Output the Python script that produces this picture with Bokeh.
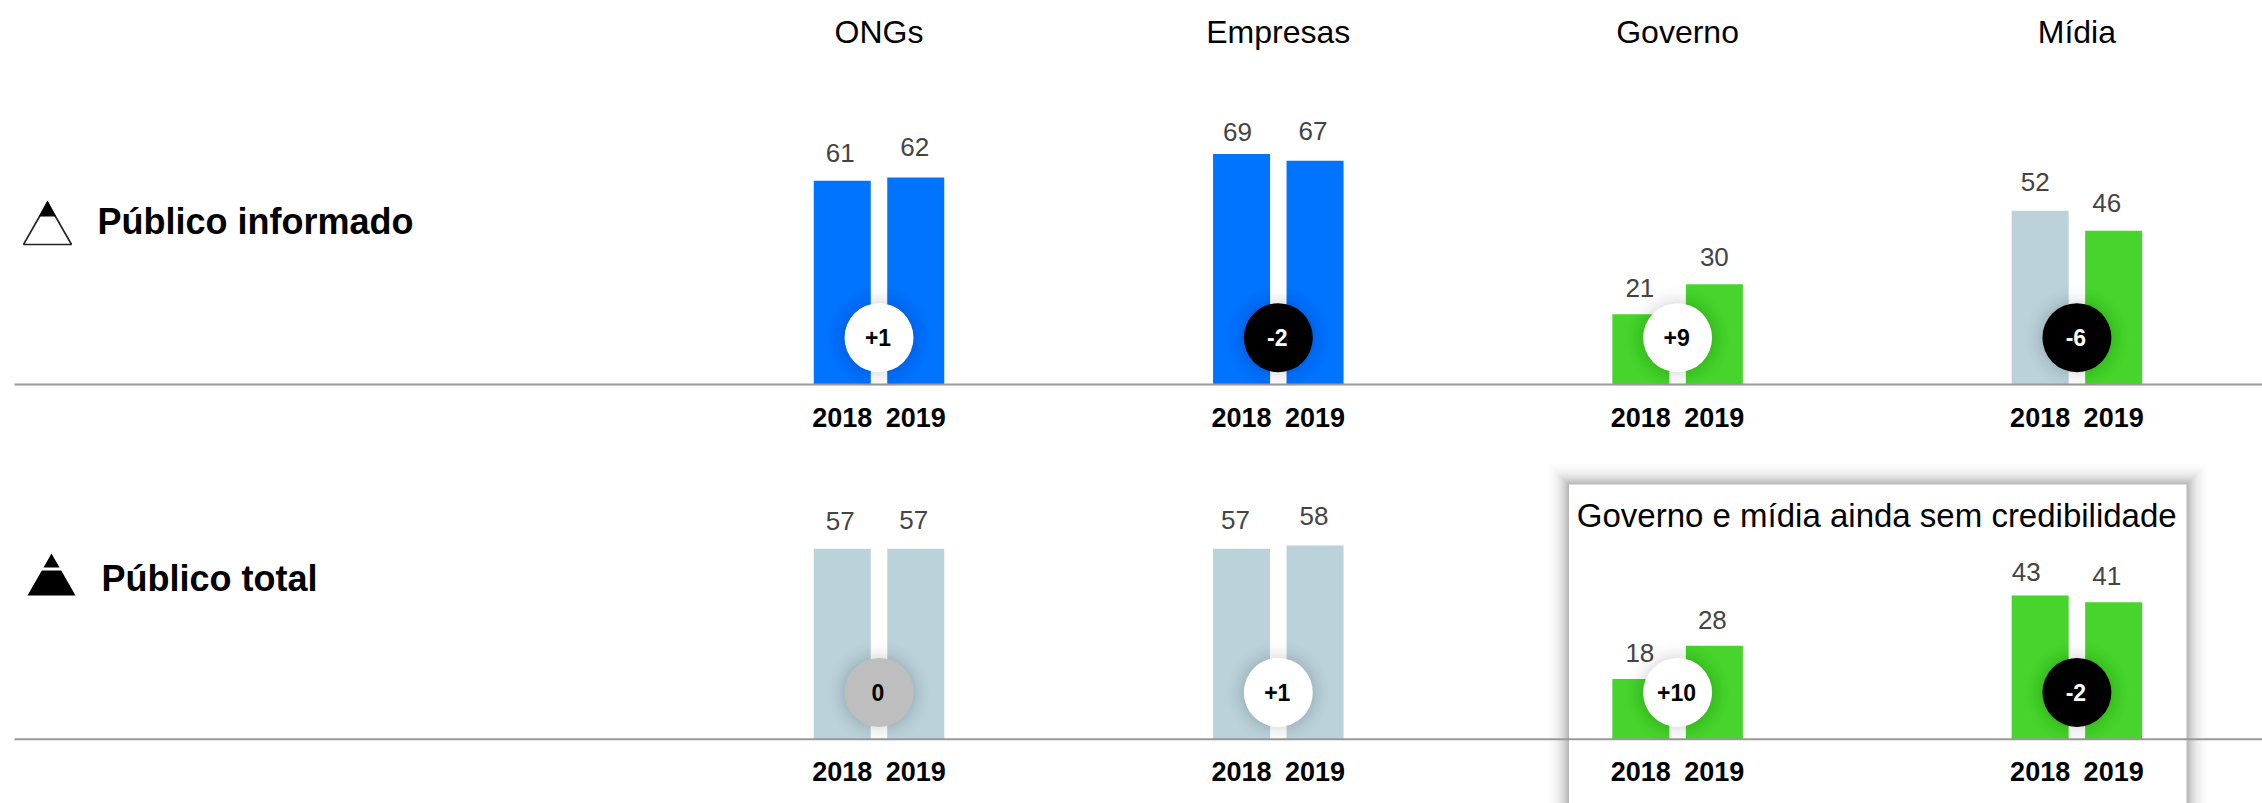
from bokeh.plotting import figure
from bokeh.layouts import column
from bokeh.models import Range1d, FixedTicker, LinearAxis
from bokeh.embed import file_html
from bokeh.resources import INLINE
from bokeh.core.properties import value

categories = ["ONGs", "Empresas", "Governo", "Mídia"]
years = ["2018", "2019"]
informed_2018 = [61, 69, 21, 52]
informed_2019 = [62, 67, 30, 46]
total_2018 = [57, 57, 18, 43]
total_2019 = [57, 58, 28, 41]
informed_change = ["+1", "-2", "+9", "-6"]
total_change = ["0", "+1", "+10", "-2"]
card_title = "Governo e mídia ainda sem credibilidade"

BLUE, PALE, GREEN = "#0073FF", "#BCD2DB", "#46D42D"
informed_colors_2018 = [BLUE, BLUE, GREEN, PALE]
informed_colors_2019 = [BLUE, BLUE, GREEN, GREEN]
total_colors_2018 = [PALE, PALE, GREEN, GREEN]
total_colors_2019 = [PALE, PALE, GREEN, GREEN]

# layout (picture pixels)
FONT = value("Liberation Sans")
W, PAD = 2262, 0
GROUP0, GROUP_STEP = 878.5, 399.3
PX_PER_UNIT = 3.34
BAR_W = 57 / GROUP_STEP
OFFSET = 36.75 / GROUP_STEP
BADGE_Y = 14
informed_dx = [-2, -1, -4, -2, -1, 0, -5, -7]
informed_dy = [28, 30, 22, 30, 26, 27, 29, 28]
total_dx = [-2, -2, -6, -1, -1, -2, -14, -7]
total_dy = [28, 29, 29, 29, 26, 26, 24, 26]


def make_row(top, bottom, baseline, v18, v19, c18, c19, change, dx, dy, header=False, card=False):
    h = bottom - top
    p = figure(width=W, height=h, output_backend="svg", toolbar_location=None,
               x_range=Range1d((PAD - GROUP0) / GROUP_STEP, (PAD + W - GROUP0) / GROUP_STEP),
               y_range=Range1d(-(bottom - baseline) / PX_PER_UNIT, (baseline - top) / PX_PER_UNIT),
               x_axis_location=None, y_axis_location=None, min_border=0, outline_line_color=None)
    p.grid.visible = False
    p.background_fill_color = "white"
    p.extra_x_ranges["px"] = Range1d(PAD, PAD + W)
    p.extra_y_ranges["py"] = Range1d(bottom, top)
    px = dict(x_range_name="px", y_range_name="py")

    if card:
        L, R, T = 1568.5, 2186, 484
        n = 22
        for k in range(n, 0, -1):
            a = 0.004 + 0.032 * ((n - k) / n) ** 2
            p.quad(left=[L - k], right=[R + k], top=[T - k], bottom=[bottom + 30],
                   fill_color="black", fill_alpha=a, line_color=None, **px)
        p.quad(left=[L], right=[R], top=[T], bottom=[bottom + 30], fill_color="white", line_color=None, **px)
        p.text(x=[(L + R) / 2 - 1], y=[515], text=[card_title], text_font=FONT, text_font_size="33px",
               text_color="black", text_align="center", text_baseline="middle", **px)

    idx = list(range(len(categories)))
    x18 = [i - OFFSET for i in idx]
    x19 = [i + OFFSET for i in idx]
    p.vbar(x=x18, top=v18, bottom=0, width=BAR_W, fill_color=c18, line_color=None)
    p.vbar(x=x19, top=v19, bottom=0, width=BAR_W, fill_color=c19, line_color=None)

    # value labels
    xs = [x for pair in zip(x18, x19) for x in pair]
    ys = [v for pair in zip(v18, v19) for v in pair]
    p.text(x=xs, y=ys, text=[str(v) for v in ys], x_offset=dx, y_offset=[-d for d in dy],
           text_font=FONT, text_font_size="26px", text_color="#444444",
           text_align="center", text_baseline="middle")

    # base line
    p.line(x=[14, PAD + W], y=[baseline, baseline], line_color="#999999", line_width=2, **px)

    # change badges with soft shadow
    for k in range(12, 0, -1):
        p.scatter(x=idx, y=[BADGE_Y] * 4, size=69 + 3 * k, marker="circle",
                  fill_color="black", fill_alpha=0.004 + 0.012 * ((12 - k) / 12) ** 2, line_color=None)
    fills = ["#BEBEBE" if c == "0" else ("white" if c.startswith("+") else "black") for c in change]
    inks = ["white" if c.startswith("-") else "black" for c in change]
    p.scatter(x=idx, y=[BADGE_Y] * 4, size=69, marker="circle", fill_color=fills, line_color=None)
    p.text(x=idx, y=[BADGE_Y] * 4, text=change, text_color=inks, text_font=FONT,
           text_font_size="23px", text_font_style="bold", text_align="center", text_baseline="middle",
           x_offset=-1, y_offset=0)

    # year tick labels on a real axis
    ticks = xs
    ax = LinearAxis(ticker=FixedTicker(ticks=ticks),
                    major_label_overrides={t: years[n % 2] for n, t in enumerate(ticks)})
    ax.fixed_location = 0
    ax.axis_line_color = None
    ax.major_tick_line_color = None
    ax.minor_tick_line_color = None
    ax.major_label_standoff = 17
    ax.major_label_text_font = "Liberation Sans"
    ax.major_label_text_font_size = "27px"
    ax.major_label_text_font_style = "bold"
    ax.major_label_text_color = "black"
    p.add_layout(ax, "below")

    if header:
        p.text(x=idx, y=[31] * 4, text=categories, text_font=FONT, text_font_size="32px", text_color="black",
               text_align="center", text_baseline="middle", y_range_name="py")
    return p, px


p1, px1 = make_row(0, 450, 384, informed_2018, informed_2019, informed_colors_2018, informed_colors_2019,
                   informed_change, informed_dx, informed_dy, header=True)
p2, px2 = make_row(450, 803, 738.7, total_2018, total_2019, total_colors_2018, total_colors_2019,
                   total_change, total_dx, total_dy, card=True)

# row labels and pyramid icons
p1.text(x=[97], y=[221], text=["Público informado"], text_font=FONT, text_font_size="36px",
        text_font_style="bold", text_color="black", text_baseline="middle", **px1)
p2.text(x=[101], y=[578], text=["Público total"], text_font=FONT, text_font_size="36px",
        text_font_style="bold", text_color="black", text_baseline="middle", **px2)

p1.patch(x=[23, 47, 71], y=[244, 202, 244], fill_color="white", line_color="#222222", line_width=1.6, **px1)
p1.patch(x=[38.5, 47, 55.5], y=[216, 200, 216], fill_color="black", line_color=None, **px1)
p2.patch(x=[27, 51, 75], y=[595, 553, 595], fill_color="black", line_color=None, **px2)
p2.patch(x=[41, 61, 62.5, 39.5], y=[567, 567, 570, 570], fill_color="white", line_color=None, **px2)

layout = column(p1, p2, spacing=0)
open("out.html", "w").write(file_html(layout, INLINE))
